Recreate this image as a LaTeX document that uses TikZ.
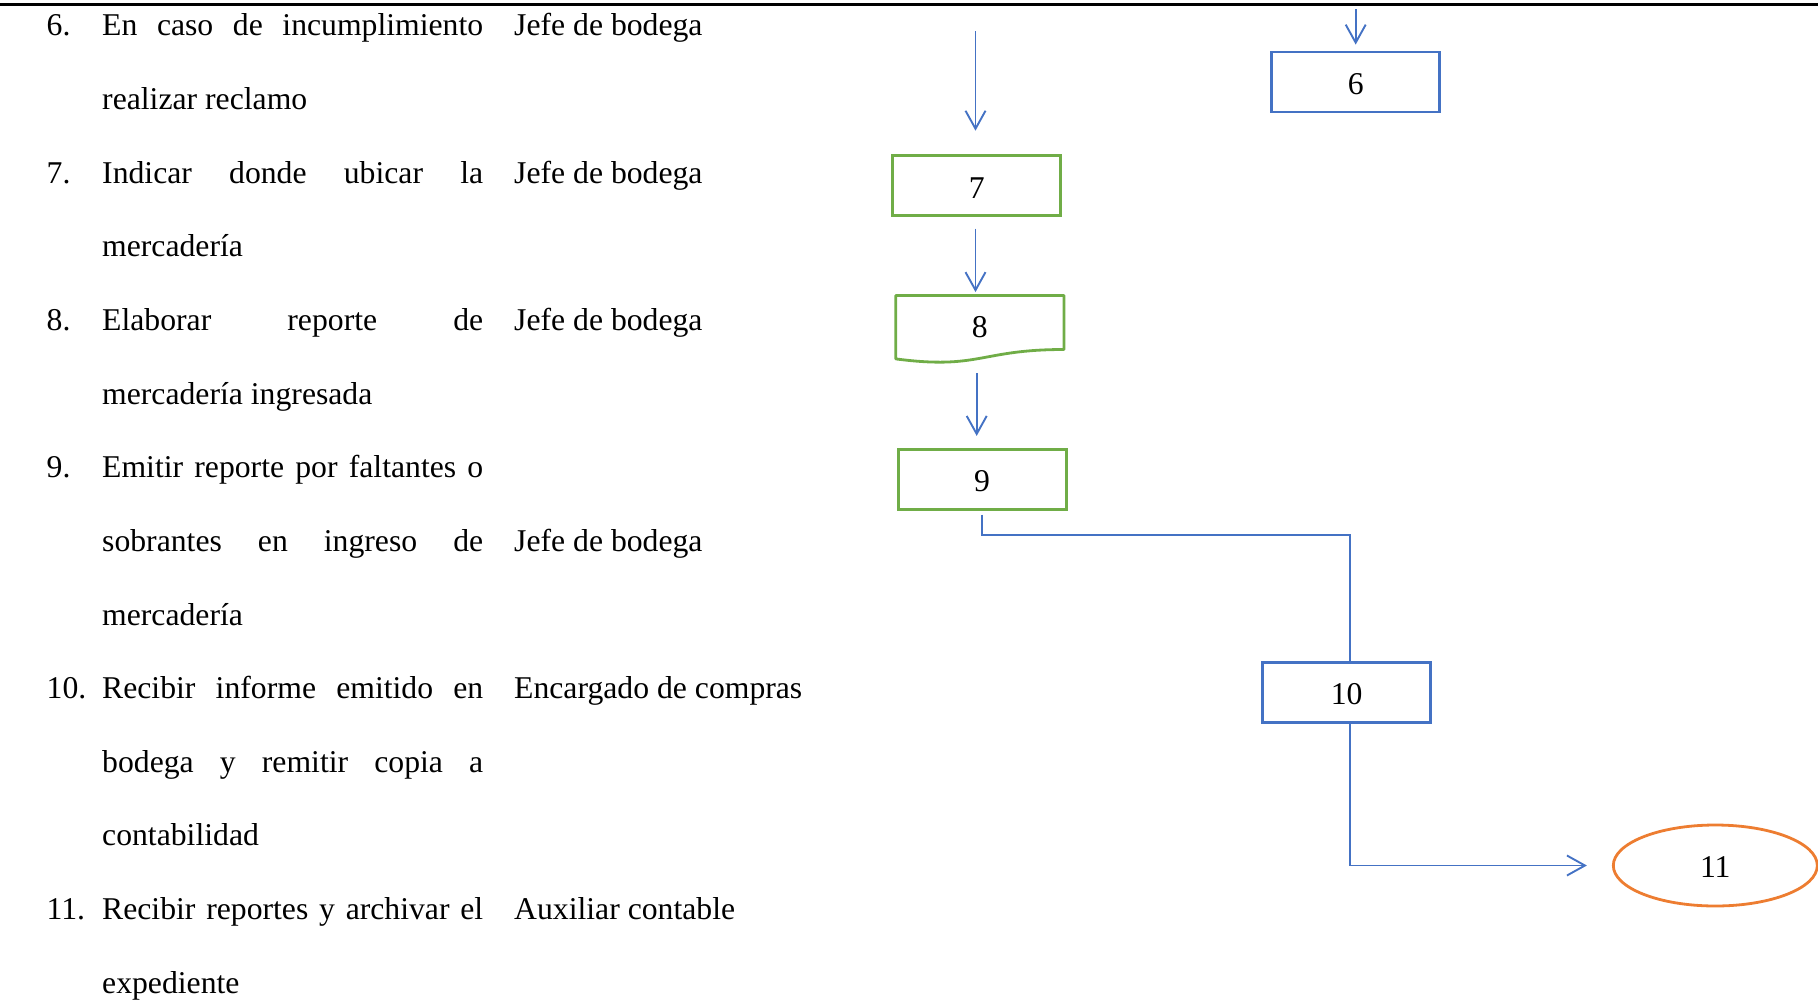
\documentclass[tikz,border=0pt]{standalone}
\usepackage{fontspec}
\setmainfont{Liberation Serif}
\usetikzlibrary{arrows.meta,shapes.geometric,calc}
\definecolor{flowblue}{HTML}{4472C4}
\definecolor{flowgreen}{HTML}{70AD47}
\definecolor{floworange}{HTML}{ED7D31}
\newlength{\colw}\setlength{\colw}{381pt}
% justified line of the description column
\newcommand{\jline}[1]{\makebox[\colw][s]{#1}}

\begin{document}
\begin{tikzpicture}[x=1pt,y=-1pt,
  every node/.style={font=\fontsize{31.7}{38}\selectfont, inner sep=0pt},
  txt/.style={anchor=base west},
  numtext/.style={text height=24.4pt, text depth=0pt},
  stepbox/.style={draw, line width=2.8pt, minimum width=168pt, minimum height=60pt, numtext},
  bluebox/.style={stepbox, draw=flowblue},
  greenbox/.style={stepbox, draw=flowgreen},
  conn/.style={draw=flowblue, line width=1.9pt},
  thinconn/.style={draw=flowblue, line width=1.6pt},
  arr/.style={conn, -{Straight Barb[length=18pt,width=20pt,line width=1.9pt]}},
]
\useasboundingbox (0,0) rectangle (1818,999);

% table rule
\draw[line width=2.6pt] (0,4.7) -- (1818,4.7);

% activity list
\node[txt] (num6) at (46.5,35.8) {6.};
\node[txt] (d6a) at (102,35.8) {\jline{En caso de incumplimiento}};
\node[txt] (r6) at (514,35.8) {Jefe de bodega};
\node[txt] (d6b) at (102,109.45) {realizar reclamo};

\node[txt] (num7) at (46.5,183.1) {7.};
\node[txt] (d7a) at (102,183.1) {\jline{Indicar donde ubicar la}};
\node[txt] (r7) at (514,183.1) {Jefe de bodega};
\node[txt] (d7b) at (102,256.75) {mercadería};

\node[txt] (num8) at (46.5,330.4) {8.};
\node[txt] (d8a) at (102,330.4) {\jline{Elaborar reporte de}};
\node[txt] (r8) at (514,330.4) {Jefe de bodega};
\node[txt] (d8b) at (102,404.05) {mercadería ingresada};

\node[txt] (num9) at (46.5,477.7) {9.};
\node[txt] (d9a) at (102,477.7) {\jline{Emitir reporte por faltantes o}};
\node[txt] (d9b) at (102,551.35) {\jline{sobrantes en ingreso de}};
\node[txt] (r9) at (514,551.35) {Jefe de bodega};
\node[txt] (d9c) at (102,625) {mercadería};

\node[txt] (num10) at (46.5,698.65) {10.};
\node[txt] (d10a) at (102,698.65) {\jline{Recibir informe emitido en}};
\node[txt] (r10) at (514,698.65) {Encargado de compras};
\node[txt] (d10b) at (102,772.3) {\jline{bodega y remitir copia a}};
\node[txt] (d10c) at (102,845.95) {contabilidad};

\node[txt] (num11) at (46.5,919.6) {11.};
\node[txt] (d11a) at (102,919.6) {\jline{Recibir reportes y archivar el}};
\node[txt] (r11) at (514,919.6) {Auxiliar contable};
\node[txt] (d11b) at (102,993.25) {expediente};

% flowchart steps
\node[bluebox] (n6) at (1355.7,82) {6};
\node[greenbox] (n7) at (976.7,185.8) {7};
\node[minimum width=167.7pt, minimum height=63pt] (n8) at (979.85,327.2) {8};
\draw[flowgreen, line width=2.8pt, line join=round]
  (n8.south west) -- (n8.north west) -- (n8.north east) -- ([yshift=9.4pt]n8.south east)
  .. controls ([yshift=9.4pt]n8.south) and ([yshift=-11pt]n8.south) .. (n8.south west) -- cycle;
\node[greenbox] (n9) at (982.15,479.3) {9};
\node[bluebox] (n10) at (1346.7,692.3) {10};
\node[draw=floworange, line width=2.8pt, ellipse, minimum width=204pt, minimum height=81pt, numtext] (n11) at (1715.3,865.5) {11};

% connectors
\coordinate (s6) at (1355.7,9.3);
\coordinate (s7) at (975.5,31);
\coordinate (j1) at (1349.7,535);
\draw[arr, shorten >=6pt] (s6) -- (s6 |- n6.north);
\draw[arr, shorten >=23.7pt] (s7) -- (s7 |- n7.north);
\draw[arr, shorten <=11.3pt, shorten >=3.4pt] (n7.south -| s7) -- (n8.north -| s7);
\draw[arr, shorten <=14.3pt, shorten >=12pt] (n8.south -| n7.south) -- (n9.north -| n7.south);
\draw[thinconn] ([yshift=-4pt]n9.south) |- (j1) -- (j1 |- n10.north);
\draw[arr, shorten >=25pt] (n10.south -| j1) |- (n11.west);
\end{tikzpicture}
\end{document}
